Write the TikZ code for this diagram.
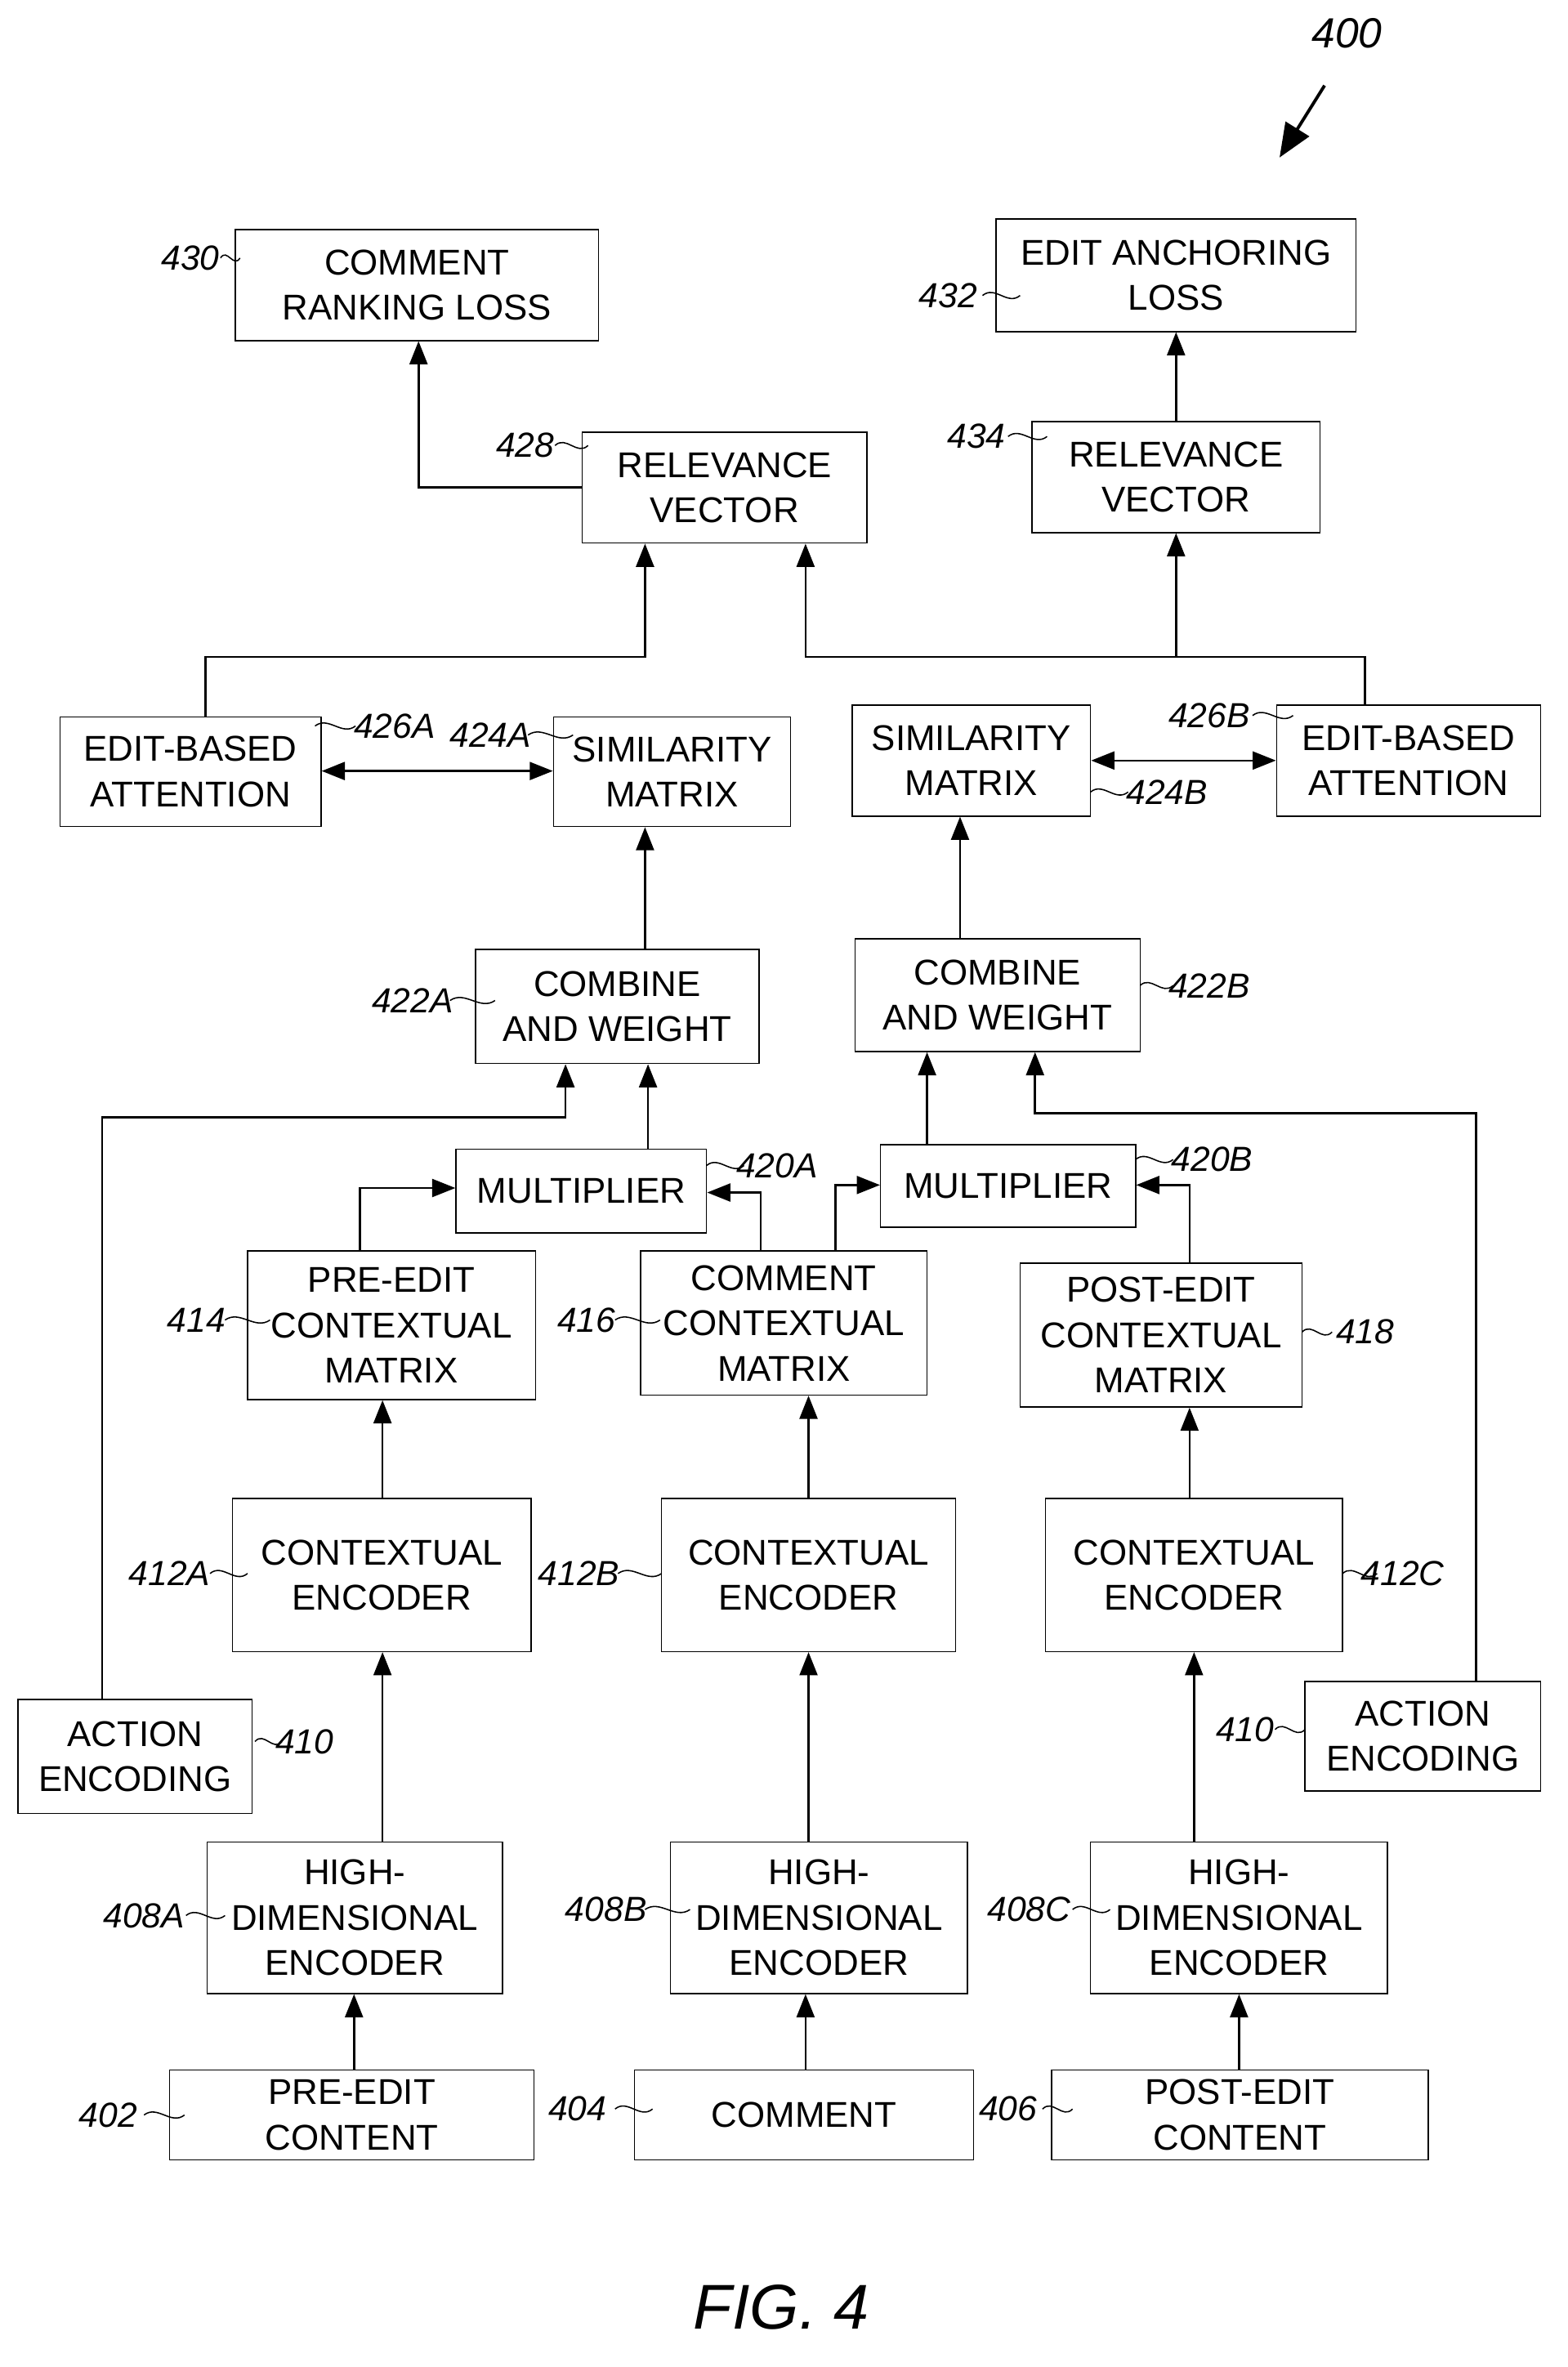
\documentclass[tikz,border=0pt]{standalone}
\usepackage{fontspec}
\setmainfont{Liberation Sans}
\usetikzlibrary{arrows.meta}
\newcommand\bx[6]{\node[box,minimum width={(#4-#2)*0.05cm}, minimum height={(#5-#3)*0.05cm}] (#1) at ({(#2+#4)/2},{(#3+#5)/2}) {#6};}
\newcommand\lb[5]{\node[lab] at (#1,#2) {#3}; \draw[thin line] (#4,#2) .. controls +({(#5-#4)/3},-7) and +({-(#5-#4)/3},7) .. (#5,#2);}
\begin{document}
\begin{tikzpicture}[x=0.05cm,y=-0.05cm,
 box/.style={draw,line width=1.2pt,align=center,inner sep=0pt,font=\fontsize{34}{43}\selectfont},
 lab/.style={font=\fontsize{33}{36}\selectfont\itshape},
 thin line/.style={line width=1.2pt},
 ar/.style={line width=2pt,-{Triangle[length=22pt,width=17pt]}},
 dar/.style={line width=2pt,{Triangle[length=22pt,width=17pt]}-{Triangle[length=22pt,width=17pt]}}]
\useasboundingbox (0,0) rectangle (1045,1578);
\bx{b430}{157}{153}{399}{227}{COMMENT\\RANKING LOSS}
\bx{b432}{664}{146}{904}{221}{EDIT ANCHORING\\LOSS}
\bx{b428}{388}{288}{578}{362}{RELEVANCE\\VECTOR}
\bx{b434}{688}{281}{880}{355}{RELEVANCE\\VECTOR}
\bx{b426A}{40}{478}{214}{551}{EDIT-BASED\\ATTENTION}
\bx{b424A}{369}{478}{527}{551}{SIMILARITY\\MATRIX}
\bx{b424B}{568}{470}{727}{544}{SIMILARITY\\MATRIX}
\bx{b426B}{851}{470}{1027}{544}{EDIT-BASED\\ATTENTION}
\bx{b422A}{317}{633}{506}{709}{COMBINE\\AND WEIGHT}
\bx{b422B}{570}{626}{760}{701}{COMBINE\\AND WEIGHT}
\bx{b420A}{304}{766}{471}{822}{MULTIPLIER}
\bx{b420B}{587}{763}{757}{818}{MULTIPLIER}
\bx{b414}{165}{834}{357}{933}{PRE-EDIT\\CONTEXTUAL\\MATRIX}
\bx{b416}{427}{834}{618}{930}{COMMENT\\CONTEXTUAL\\MATRIX}
\bx{b418}{680}{842}{868}{938}{POST-EDIT\\CONTEXTUAL\\MATRIX}
\bx{b412A}{155}{999}{354}{1101}{CONTEXTUAL\\ENCODER}
\bx{b412B}{441}{999}{637}{1101}{CONTEXTUAL\\ENCODER}
\bx{b412C}{697}{999}{895}{1101}{CONTEXTUAL\\ENCODER}
\bx{b410L}{12}{1133}{168}{1209}{ACTION\\ENCODING}
\bx{b410R}{870}{1121}{1027}{1194}{ACTION\\ENCODING}
\bx{b408A}{138}{1228}{335}{1329}{HIGH-\\DIMENSIONAL\\ENCODER}
\bx{b408B}{447}{1228}{645}{1329}{HIGH-\\DIMENSIONAL\\ENCODER}
\bx{b408C}{727}{1228}{925}{1329}{HIGH-\\DIMENSIONAL\\ENCODER}
\bx{b402}{113}{1380}{356}{1440}{PRE-EDIT\\CONTENT}
\bx{b404}{423}{1380}{649}{1440}{COMMENT}
\bx{b406}{701}{1380}{952}{1440}{POST-EDIT\\CONTENT}
% arrows
\draw[ar] (b402.north -| 236,0) -- (b408A.south -| 236,0);
\draw[ar] (b404.north -| 537,0) -- (b408B.south -| 537,0);
\draw[ar] (b406.north -| 826,0) -- (b408C.south -| 826,0);
\draw[ar] (b408A.north -| 255,0) -- (b412A.south -| 255,0);
\draw[ar] (b408B.north -| 539,0) -- (b412B.south -| 539,0);
\draw[ar] (b408C.north -| 796,0) -- (b412C.south -| 796,0);
\draw[ar] (b412A.north -| 255,0) -- (b414.south -| 255,0);
\draw[ar] (b412B.north -| 539,0) -- (b416.south -| 539,0);
\draw[ar] (b412C.north -| 793,0) -- (b418.south -| 793,0);
\draw[ar] (b414.north -| 240,0) |- (b420A.west |- 0,792);
\draw[ar] (b416.north -| 507,0) |- (b420A.east |- 0,795);
\draw[ar] (b416.north -| 557,0) |- (b420B.west |- 0,790);
\draw[ar] (b418.north -| 793,0) |- (b420B.east |- 0,790);
\draw[ar] (b420A.north -| 432,0) -- (b422A.south -| 432,0);
\draw[ar] (b420B.north -| 618,0) -- (b422B.south -| 618,0);
\draw[ar] (b410L.north -| 68,0) |- (377,745) -- (b422A.south -| 377,0);
\draw[ar] (b410R.north -| 984,0) |- (690,742) -- (b422B.south -| 690,0);
\draw[ar] (b422A.north -| 430,0) -- (b424A.south -| 430,0);
\draw[ar] (b422B.north -| 640,0) -- (b424B.south -| 640,0);
\draw[dar] (b426A.east |- 0,514) -- (b424A.west |- 0,514);
\draw[dar] (b424B.east |- 0,507) -- (b426B.west |- 0,507);
\draw[ar] (b426A.north -| 137,0) |- (430,438) -- (b428.south -| 430,0);
\draw[ar] (b426B.north -| 910,0) |- (537,438) -- (b428.south -| 537,0);
\draw[ar] (784,438) -- (b434.south -| 784,0);
\draw[ar] (b428.west |- 0,325) -| (b430.south -| 279,0);
\draw[ar] (b434.north -| 784,0) -- (b432.south -| 784,0);
% labels
\lb{127}{172}{430}{147}{160}
\lb{632}{197}{432}{655}{680}
\lb{350}{297}{428}{370}{392}
\lb{651}{291}{434}{672}{698}
\lb{263}{484}{426A}{210}{237}
\lb{327}{490}{424A}{352}{382}
\lb{806}{477}{426B}{835}{862}
\lb{778}{528}{424B}{727}{752}
\lb{275}{667}{422A}{300}{330}
\lb{806}{657}{422B}{760}{782}
\lb{518}{777}{420A}{471}{496}
\lb{808}{773}{420B}{757}{782}
\lb{131}{880}{414}{150}{180}
\lb{391}{880}{416}{410}{440}
\lb{910}{888}{418}{868}{888}
\lb{113}{1049}{412A}{140}{165}
\lb{386}{1049}{412B}{412}{441}
\lb{935}{1049}{412C}{895}{918}
\lb{203}{1161}{410}{170}{188}
\lb{830}{1153}{410}{850}{870}
\lb{96}{1277}{408A}{124}{150}
\lb{404}{1273}{408B}{430}{460}
\lb{686}{1273}{408C}{715}{740}
\lb{72}{1410}{402}{96}{123}
\lb{385}{1406}{404}{410}{435}
\lb{672}{1406}{406}{695}{715}
\node[font=\fontsize{40}{44}\selectfont\itshape] (n400) at (898,22) {400};
\coordinate (a400) at (853,105);
\draw[line width=3pt,-{Triangle[length=32pt,width=26pt]}] (883,57) -- (a400);
\node[font=\fontsize{60}{66}\selectfont\itshape] (fig) at (521,1538) {FIG. 4};
\end{tikzpicture}
\end{document}
